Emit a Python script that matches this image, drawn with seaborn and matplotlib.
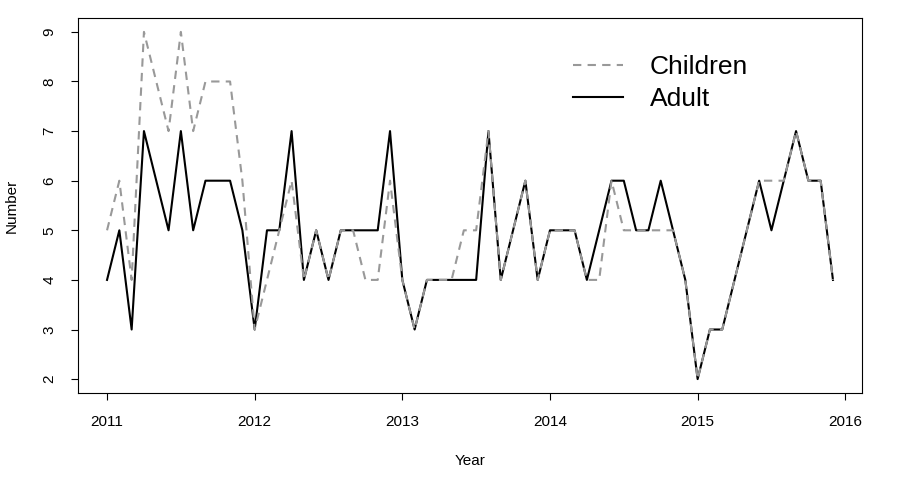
import matplotlib
matplotlib.use("Agg")
import matplotlib.pyplot as plt
import seaborn as sns
import numpy as np
import pandas as pd

start_year = 2011
n_months = 60
children = [5, 6, 4, 9, 8, 7, 9, 7, 8, 8, 8, 6,
            3, 4, 5, 6, 4, 5, 4, 5, 5, 4, 4, 6,
            4, 3, 4, 4, 4, 5, 5, 7, 4, 5, 6, 4,
            5, 5, 5, 4, 4, 6, 5, 5, 5, 5, 5, 4,
            2, 3, 3, 4, 5, 6, 6, 6, 7, 6, 6, 4]
adult = [4, 5, 3, 7, 6, 5, 7, 5, 6, 6, 6, 5,
         3, 5, 5, 7, 4, 5, 4, 5, 5, 5, 5, 7,
         4, 3, 4, 4, 4, 4, 4, 7, 4, 5, 6, 4,
         5, 5, 5, 4, 5, 6, 6, 5, 5, 6, 5, 4,
         2, 3, 3, 4, 5, 6, 5, 6, 7, 6, 6, 4]
xticks = [2011, 2012, 2013, 2014, 2015, 2016]
yticks = [2, 3, 4, 5, 6, 7, 8, 9]

plt.rcParams['font.family'] = ['Liberation Sans', 'DejaVu Sans']

dates = pd.date_range(f"{start_year}-01-01", periods=n_months, freq="MS")
year_dec = dates.year + (dates.month - 1) / 12.0
df = pd.DataFrame({"Year": year_dec, "Children": children, "Adult": adult})

fig = plt.figure(figsize=(9.02, 4.90), dpi=100)
ax = fig.add_axes([78/902, 1-393/490, (862-78)/902, (393-18)/490])

sns.lineplot(data=df, x="Year", y="Adult", ax=ax, color="black",
             linewidth=1.5, label="Adult")
sns.lineplot(data=df, x="Year", y="Children", ax=ax, color="#999999",
             linewidth=1.5, linestyle=(0, (4, 3)), label="Children")

rng = df["Year"].max() - df["Year"].min()
ax.set_xlim(df["Year"].min() - 0.04*rng, df["Year"].max() + 0.04*rng)
ax.set_ylim(2 - 0.04*7, 9 + 0.04*7)
ax.set_xticks(xticks)
ax.set_xticklabels([str(t) for t in xticks])
ax.set_yticks(yticks)
ax.set_yticklabels([str(t) for t in yticks], rotation=90, va="center")
ax.tick_params(axis="both", direction="out", length=5, width=0.8,
               labelsize=11, pad=10.5, colors="black")
for s in ax.spines.values():
    s.set_linewidth(0.8)
    s.set_color("black")

ax.set_xlabel("Year", fontsize=11)
ax.set_ylabel("Number", fontsize=11)
ax.xaxis.set_label_coords(0.5, (393-461)/375)
ax.xaxis.label.set_va("center")
ax.yaxis.set_label_coords((12-78)/784, 0.5)
ax.yaxis.label.set_va("center")

handles, labels = ax.get_legend_handles_labels()
order = [labels.index("Children"), labels.index("Adult")]
leg = ax.legend([handles[i] for i in order], [labels[i] for i in order],
                loc="upper left", bbox_to_anchor=((573-78)/784, 1-(55-18)/375),
                frameon=False, fontsize=19, handlelength=1.9,
                handletextpad=1.0, labelspacing=0.3, borderaxespad=0,
                borderpad=0)

fig.savefig("out.png", dpi=100)
